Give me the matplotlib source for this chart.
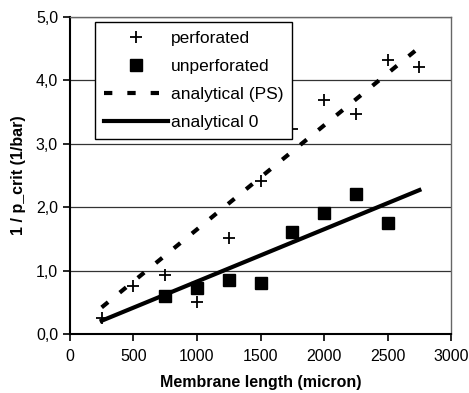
import matplotlib
matplotlib.use("Agg")
import matplotlib.pyplot as plt
from matplotlib.ticker import FuncFormatter

plt.rcParams['font.family'] = ['Liberation Sans', 'DejaVu Sans']

x_perf = [250, 500, 750, 1000, 1250, 1500, 1750, 2000, 2250, 2500, 2750]
y_perf = [0.25, 0.75, 0.93, 0.50, 1.52, 2.42, 3.24, 3.69, 3.47, 4.32, 4.21]

x_unperf = [750, 1000, 1250, 1500, 1750, 2000, 2250, 2500]
y_unperf = [0.60, 0.73, 0.86, 0.81, 1.61, 1.91, 2.21, 1.75]

x_line = [250, 2750]
y_ps = [0.42, 4.52]
y_zero = [0.21, 2.27]

fig = plt.figure(figsize=(4.69, 3.93), dpi=100)
ax = fig.add_axes([0.149, 0.150, 0.813, 0.807])

ax.plot(x_perf, y_perf, linestyle='none', marker='+', markersize=9,
        markeredgewidth=1.3, color='black', label='perforated')
ax.plot(x_unperf, y_unperf, linestyle='none', marker='s', markersize=8.5,
        color='black', label='unperforated')
ax.plot(x_line, y_ps, linestyle=(0, (2, 3.6)), linewidth=3, color='black',
        label='analytical (PS)')
ax.plot(x_line, y_zero, linestyle='-', linewidth=3, color='black',
        label='analytical 0')

ax.set_xlim(0, 3000)
ax.set_ylim(0, 5)
ax.set_xticks(range(0, 3001, 500))
ax.set_yticks([0, 1, 2, 3, 4, 5])
ax.yaxis.set_major_formatter(FuncFormatter(lambda v, p: f"{v:.1f}".replace('.', ',')))
ax.grid(axis='y', color='#333333', linewidth=0.9)
ax.set_axisbelow(True)

for s in ['top', 'right']:
    ax.spines[s].set_color('#666666')
    ax.spines[s].set_linewidth(1)
for s in ['left', 'bottom']:
    ax.spines[s].set_color('black')
    ax.spines[s].set_linewidth(1.5)

ax.tick_params(axis='both', direction='out', length=5, width=1.2, labelsize=11.5)
ax.tick_params(axis='x', pad=6)

ax.set_xlabel('Membrane length (micron)', fontsize=11.5, fontweight='bold', labelpad=8)
ax.set_ylabel('1 / p_crit (1/bar)', fontsize=11.5, fontweight='bold', labelpad=7)

leg = ax.legend(loc='upper left', bbox_to_anchor=(0.066, 0.985), fontsize=12.5,
                frameon=True, fancybox=False, edgecolor='black', framealpha=1,
                handlelength=3.7, borderpad=0.52, labelspacing=0.74,
                handletextpad=0.15, borderaxespad=0)
leg.get_frame().set_linewidth(1)

fig.savefig('out.png', dpi=100)
